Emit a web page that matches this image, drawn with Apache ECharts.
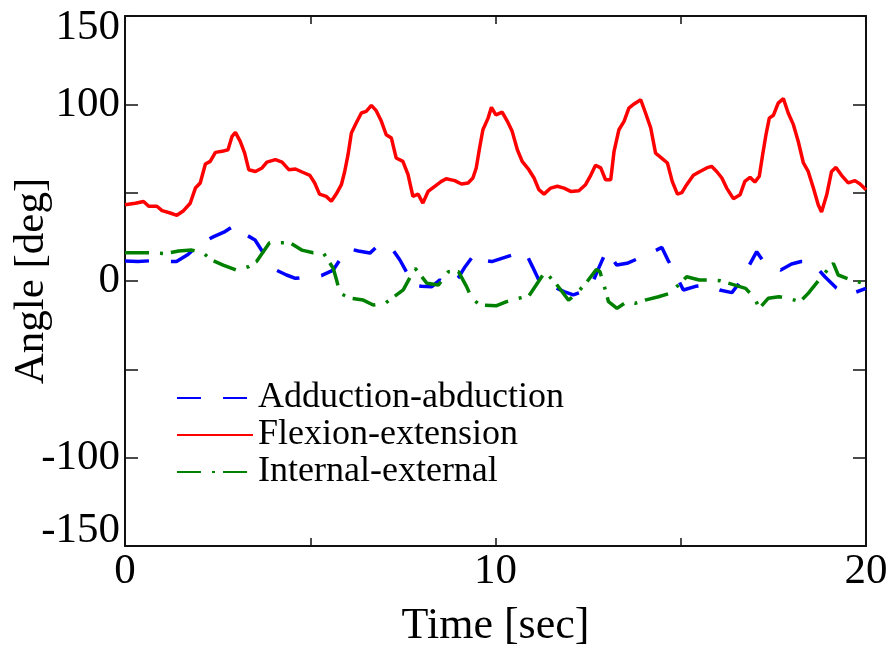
<!DOCTYPE html>
<html>
<head>
<meta charset="utf-8">
<script src="https://cdn.jsdelivr.net/npm/echarts@6/dist/echarts.min.js"></script>
<style>
html,body{margin:0;padding:0;background:#fff;}
#chart{width:889px;height:650px;}
</style>
</head>
<body>
<div id="chart"></div>
<script>
// ---- data ----
var seriesNames = ['Adduction-abduction', 'Flexion-extension', 'Internal-external'];

var flexTime = [0,0.28,0.5,0.64,0.86,1.0,1.22,1.4,1.58,1.76,1.9,2.03,2.17,2.3,2.44,2.62,2.78,2.89,2.98,3.11,3.23,3.34,3.52,3.7,3.83,4.06,4.24,4.42,4.6,4.78,4.99,5.12,5.25,5.43,5.57,5.7,5.84,5.93,6.02,6.11,6.24,6.38,6.51,6.65,6.78,6.92,7.05,7.19,7.32,7.5,7.64,7.77,7.91,8.04,8.18,8.36,8.54,8.67,8.9,9.08,9.26,9.39,9.48,9.57,9.66,9.8,9.89,10.01,10.18,10.32,10.45,10.59,10.72,10.9,11.04,11.17,11.31,11.49,11.67,11.85,12.03,12.25,12.43,12.57,12.7,12.84,12.97,13.11,13.2,13.33,13.47,13.6,13.74,13.92,14.05,14.19,14.32,14.46,14.64,14.77,14.91,15.03,15.16,15.34,15.52,15.7,15.83,15.97,16.11,16.24,16.42,16.6,16.73,16.87,17.0,17.12,17.21,17.3,17.39,17.5,17.63,17.77,17.9,18.04,18.17,18.31,18.44,18.58,18.71,18.8,18.94,19.07,19.19,19.34,19.52,19.7,19.84,20.0];
var flexAngle = [43.2,44,45,42.3,42.3,39.8,38.5,37.2,39.8,44,52.6,55.5,66.2,67.7,72.8,73.4,74.3,81.9,84.1,79,72.4,63,62,64,67.3,68.7,67.3,63,63.4,61.7,59.8,55.5,49.2,47.9,45.1,49.2,54.5,62,71.5,83.8,89.4,95.1,96,99.4,96.4,90.4,82.8,80.9,69.6,67.7,60.2,47.9,49.2,44.1,50.7,53.6,56.4,57.9,56.8,54.9,55.5,58.3,64,75.3,85.6,92.2,98.3,94,95.6,90.4,84.7,74.3,67.7,63,58.3,51.7,49.2,52.6,53.6,52.6,50.7,51.1,54.5,59.8,65.5,64,57.3,57.3,73.4,85.6,90.4,97.9,100.2,102.6,95.1,86.6,72.4,70,66.8,56.4,49.2,50,54.5,59.8,62,64,64.9,62,58.3,52.6,46.6,48.8,56.4,58.7,56,59.3,71.5,82.8,92.2,93.8,100.7,103.2,95.1,88.5,79.1,66.8,62,52.6,43.2,39,48.8,62,64.3,59.8,55.5,56.8,54.9,51.7];

var adduTime = [0,0.35,0.73,1.05,1.39,1.7,1.98,2.2,2.38,2.7,2.97,3.2,3.51,3.7,3.87,4.1,4.36,4.6,5.0,5.3,5.62,5.8,5.98,6.3,6.61,6.85,7.11,7.25,7.42,7.6,7.74,8.0,8.28,8.5,8.77,9.0,9.18,9.45,9.63,9.9,10.17,10.5,10.8,11.0,11.16,11.3,11.61,11.85,12.1,12.35,12.55,12.8,13.0,13.27,13.55,13.86,14.2,14.49,14.65,14.8,15.07,15.4,15.74,16.05,16.38,16.55,16.73,17.05,17.2,17.36,17.7,17.99,18.25,18.53,18.89,19.2,19.52,20.0];
var adduAngle = [11.3,11,11.5,11,11,15,20.4,23,25,28,31.7,27,23.2,17,11,6,3.4,1.5,2.4,3,6.2,12,18.5,17,15.8,20.4,20,17,11.9,5,-2.3,-3,-3.2,0.6,-2.8,2,8.1,15.7,11.9,11,12.8,15,16.6,8,1,-3.6,-3.6,-6,-7.9,-6,-4.2,8,17.5,9,10,12.8,16,19,12,6.2,-5.1,-3,-2.3,-5.1,-6.6,-2,4.4,16.6,12,8.1,6.2,9.6,11,11,2.4,-4,-7.9,-4.2];

var interTime = [0,0.73,1.1,1.45,1.8,2.1,2.34,2.65,3.0,3.33,3.55,3.9,4.45,4.77,5.08,5.35,5.62,5.71,5.8,6.1,6.43,6.7,7.02,7.51,7.83,8.15,8.46,8.73,9.0,9.22,9.36,9.58,10.03,10.3,10.62,10.9,11.34,11.65,11.97,12.15,12.45,12.72,12.82,12.96,13.05,13.28,13.54,13.77,14.04,14.4,14.71,14.95,15.16,15.5,15.79,16.06,16.46,16.75,17.0,17.12,17.36,17.65,17.9,18.22,18.44,18.8,19.12,19.25,19.6,19.93,20.0];
var interAngle = [16,16,15.5,17,17.5,16,11.9,9,6.2,8.1,11,21.7,21.7,17.5,16,16,7.2,0.6,-7,-9.8,-10.8,-13.6,-12.6,-5,7.2,-1.3,-2.3,5.3,5.3,-3.2,-9.8,-13.6,-14,-11.7,-9.8,-8.5,5.3,-2,-10.8,-7.9,-1,6.5,5.3,-4.7,-11.7,-15.5,-11.7,-12.6,-10.8,-8.9,-7,-2,2.4,0.6,0.6,0.2,-2.3,-4.2,-9.8,-15.5,-9.8,-8.9,-9.8,-11.7,-7,2.4,10,3.4,0.6,-1.3,-1.5];

var yTickLabels = [150, 100, 0, -100, -150];
var xTickLabels = [0, 10, 20];

function pairs(t, v) { return t.map(function (x, i) { return [x, v[i]]; }); }

var FONT = "'Liberation Serif', 'Times New Roman', serif";
var chart = echarts.init(document.getElementById('chart'));

var axisLine = { show: true, onZero: false, lineStyle: { color: '#111', width: 2 } };
var xTick = { inside: true, length: 8, lineStyle: { color: '#111', width: 1.5 } };
var yTick = { inside: true, length: 13, lineStyle: { color: '#111', width: 1.5 } };

chart.setOption({
  animation: false,
  backgroundColor: '#fff',
  textStyle: { fontFamily: FONT, color: '#000' },
  grid: { left: 125, right: 23, top: 16, bottom: 104, containLabel: false, outerBoundsMode: 'none' },
  legend: {
    orient: 'vertical',
    left: 171, top: 375,
    itemWidth: 76, itemHeight: 14, itemGap: 1,
    data: seriesNames,
    itemStyle: { opacity: 0 },
    textStyle: { fontFamily: FONT, fontSize: 36, color: '#000', lineHeight: 36 }
  },
  xAxis: [{
    type: 'value', min: 0, max: 20, interval: 5,
    name: 'Time [sec]', nameLocation: 'middle', nameGap: 58, nameMoveOverlap: false,
    nameTextStyle: { fontFamily: FONT, fontSize: 44, color: '#000' },
    axisLine: axisLine, axisTick: xTick,
    axisLabel: {
      fontFamily: FONT, fontSize: 43, color: '#000', margin: 4,
      formatter: function (v) { return xTickLabels.indexOf(v) >= 0 ? String(v) : ''; }
    },
    splitLine: { show: false }
  }, {
    type: 'value', min: 0, max: 20, interval: 5, position: 'top',
    axisLine: axisLine, axisTick: xTick,
    axisLabel: { show: false }, splitLine: { show: false }
  }],
  yAxis: [{
    type: 'value', min: -150, max: 150, interval: 50,
    name: 'Angle [deg]', nameLocation: 'middle', nameGap: 72, nameMoveOverlap: false,
    nameTextStyle: { fontFamily: FONT, fontSize: 43, color: '#000' },
    axisLine: axisLine, axisTick: yTick,
    axisLabel: {
      fontFamily: FONT, fontSize: 43, color: '#000', margin: 5,
      formatter: function (v) {
        if (yTickLabels.indexOf(v) < 0) return '';
        if (v === 150) return '{top|' + v + '}';
        if (v === -150) return '{bot|' + v + '}';
        return String(v);
      },
      rich: {
        top: { fontFamily: FONT, fontSize: 43, color: '#000', padding: [24, 0, 0, 0] },
        bot: { fontFamily: FONT, fontSize: 43, color: '#000', padding: [0, 0, 30, 0] }
      }
    },
    splitLine: { show: false }
  }, {
    type: 'value', min: -150, max: 150, interval: 50, position: 'right',
    axisLine: axisLine, axisTick: yTick,
    axisLabel: { show: false }, splitLine: { show: false }
  }],
  series: [{
    name: seriesNames[0], type: 'line', symbol: 'none', smooth: false,
    data: pairs(adduTime, adduAngle),
    lineStyle: { color: '#0000ff', width: 3.5, type: [24, 22] },
    itemStyle: { color: '#0000ff' }, z: 3
  }, {
    name: seriesNames[1], type: 'line', symbol: 'none', smooth: false,
    data: pairs(flexTime, flexAngle),
    lineStyle: { color: '#ff0000', width: 3.5, type: 'solid' },
    itemStyle: { color: '#ff0000' }, z: 2
  }, {
    name: seriesNames[2], type: 'line', symbol: 'none', smooth: false,
    data: pairs(interTime, interAngle),
    lineStyle: { color: '#008000', width: 3.5, type: [24, 11, 3, 8] },
    itemStyle: { color: '#008000' }, z: 4
  }]
});
</script>
</body>
</html>
